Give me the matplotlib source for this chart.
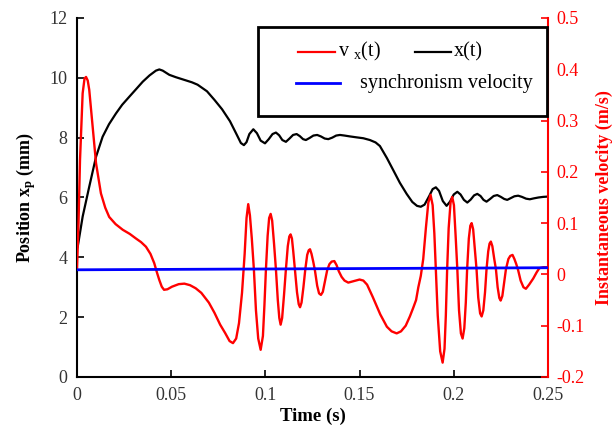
import numpy as np
import matplotlib
matplotlib.use("Agg")
import matplotlib.pyplot as plt
from matplotlib.patches import Rectangle
from matplotlib.ticker import FuncFormatter

plt.rcParams["font.family"] = ["Liberation Serif", "DejaVu Serif"]
plt.rcParams["mathtext.fontset"] = "custom"
plt.rcParams["mathtext.rm"] = "Liberation Serif"
plt.rcParams["mathtext.it"] = "Liberation Serif:italic"
plt.rcParams["mathtext.bf"] = "Liberation Serif:bold"
plt.rcParams["axes.unicode_minus"] = False

# Position of the part x(t) in mm
t_pos = [0.0000, 0.0004, 0.0030, 0.0065, 0.0101, 0.0136, 0.0170, 0.0207, 0.0240, 0.0278,
         0.0315, 0.0349, 0.0385, 0.0419, 0.0437, 0.0455, 0.0490, 0.0525, 0.0570, 0.0610,
         0.0640, 0.0690, 0.0730, 0.0770, 0.0812, 0.0848, 0.0870, 0.0886, 0.0900, 0.0915,
         0.0936, 0.0955, 0.0975, 0.0998, 0.1018, 0.1038, 0.1056, 0.1073, 0.1090, 0.1109,
         0.1128, 0.1147, 0.1166, 0.1183, 0.1200, 0.1215, 0.1235, 0.1255, 0.1275, 0.1295,
         0.1315, 0.1334, 0.1355, 0.1376, 0.1396, 0.1420, 0.1450, 0.1484, 0.1520, 0.1555,
         0.1585, 0.1608, 0.1645, 0.1680, 0.1714, 0.1750, 0.1780, 0.1805, 0.1825, 0.1845,
         0.1870, 0.1888, 0.1905, 0.1922, 0.1942, 0.1962, 0.1980, 0.2000, 0.2019, 0.2036,
         0.2054, 0.2072, 0.2090, 0.2108, 0.2125, 0.2142, 0.2158, 0.2174, 0.2193, 0.2212,
         0.2231, 0.2250, 0.2268, 0.2284, 0.2303, 0.2322, 0.2342, 0.2362, 0.2384, 0.2404,
         0.2425, 0.2450, 0.2475, 0.2500]
x_pos = [4.30, 4.36, 5.36, 6.36, 7.36, 8.03, 8.45, 8.81, 9.10, 9.37,
         9.63, 9.87, 10.08, 10.24, 10.28, 10.24, 10.10, 10.02, 9.93, 9.85,
         9.77, 9.55, 9.26, 8.95, 8.55, 8.10, 7.82, 7.75, 7.85, 8.12,
         8.28, 8.15, 7.90, 7.81, 7.95, 8.12, 8.17, 8.08, 7.92, 7.86,
         7.97, 8.09, 8.12, 8.05, 7.95, 7.92, 7.99, 8.07, 8.09, 8.04,
         7.97, 7.95, 8.00, 8.07, 8.09, 8.07, 8.04, 8.01, 7.98, 7.92,
         7.84, 7.72, 7.32, 6.90, 6.49, 6.12, 5.85, 5.72, 5.69, 5.76,
         6.05, 6.28, 6.34, 6.22, 5.88, 5.72, 5.86, 6.10, 6.19, 6.10,
         5.92, 5.83, 5.93, 6.07, 6.12, 6.05, 5.92, 5.86, 5.95, 6.05,
         6.08, 6.02, 5.95, 5.92, 5.98, 6.04, 6.06, 6.02, 5.96, 5.94,
         5.97, 6.00, 6.02, 6.03]

# Instantaneous velocity vx(t) in m/s
t_vel = [0.0000, 0.0008, 0.0016, 0.0030, 0.0040, 0.0048, 0.0057, 0.0065, 0.0083, 0.0101,
         0.0127, 0.0150, 0.0171, 0.0205, 0.0243, 0.0280, 0.0313, 0.0340, 0.0366, 0.0390,
         0.0410, 0.0425, 0.0437, 0.0450, 0.0462, 0.0480, 0.0504, 0.0540, 0.0570, 0.0600,
         0.0630, 0.0660, 0.0700, 0.0730, 0.0760, 0.0786, 0.0810, 0.0828, 0.0845, 0.0860,
         0.0876, 0.0890, 0.0900, 0.0909, 0.0918, 0.0928, 0.0939, 0.0950, 0.0962, 0.0975,
         0.0987, 0.0995, 0.1003, 0.1012, 0.1020, 0.1028, 0.1036, 0.1046, 0.1056, 0.1066,
         0.1074, 0.1081, 0.1089, 0.1099, 0.1109, 0.1119, 0.1127, 0.1134, 0.1141, 0.1148,
         0.1157, 0.1168, 0.1177, 0.1184, 0.1192, 0.1202, 0.1212, 0.1222, 0.1230, 0.1237,
         0.1245, 0.1254, 0.1263, 0.1275, 0.1285, 0.1295, 0.1305, 0.1317, 0.1328, 0.1340,
         0.1352, 0.1366, 0.1378, 0.1390, 0.1405, 0.1420, 0.1440, 0.1470, 0.1500, 0.1520,
         0.1540, 0.1570, 0.1610, 0.1645, 0.1670, 0.1697, 0.1720, 0.1745, 0.1767, 0.1785,
         0.1800, 0.1812, 0.1825, 0.1838, 0.1852, 0.1865, 0.1877, 0.1888, 0.1897, 0.1905,
         0.1915, 0.1928, 0.1941, 0.1951, 0.1958, 0.1965, 0.1973, 0.1983, 0.1992, 0.2001,
         0.2010, 0.2019, 0.2028, 0.2038, 0.2047, 0.2056, 0.2064, 0.2071, 0.2080, 0.2088,
         0.2095, 0.2103, 0.2112, 0.2121, 0.2130, 0.2140, 0.2148, 0.2157, 0.2166, 0.2174,
         0.2183, 0.2190, 0.2197, 0.2205, 0.2215, 0.2224, 0.2233, 0.2242, 0.2249, 0.2258,
         0.2268, 0.2277, 0.2290, 0.2300, 0.2312, 0.2322, 0.2332, 0.2342, 0.2355, 0.2370,
         0.2383, 0.2400, 0.2422, 0.2440, 0.2454, 0.2475, 0.2500]
v_x = [0.010, 0.100, 0.223, 0.353, 0.382, 0.385, 0.378, 0.360, 0.288, 0.217,
       0.158, 0.130, 0.112, 0.098, 0.087, 0.079, 0.070, 0.063, 0.054, 0.040,
       0.022, 0.003, -0.011, -0.024, -0.030, -0.029, -0.024, -0.019, -0.018, -0.021,
       -0.027, -0.036, -0.055, -0.075, -0.098, -0.114, -0.130, -0.134, -0.125, -0.095,
       -0.036, 0.040, 0.110, 0.137, 0.115, 0.070, 0.010, -0.070, -0.125, -0.147,
       -0.120, -0.060, 0.010, 0.075, 0.110, 0.118, 0.105, 0.060, 0.010, -0.050,
       -0.085, -0.098, -0.085, -0.040, 0.010, 0.055, 0.074, 0.078, 0.070, 0.045,
       0.010, -0.035, -0.058, -0.064, -0.055, -0.025, 0.010, 0.038, 0.047, 0.049,
       0.040, 0.025, 0.008, -0.022, -0.037, -0.040, -0.034, -0.012, 0.008, 0.020,
       0.025, 0.026, 0.018, 0.006, -0.005, -0.012, -0.016, -0.013, -0.010, -0.012,
       -0.020, -0.044, -0.078, -0.102, -0.111, -0.115, -0.111, -0.100, -0.082, -0.065,
       -0.050, -0.025, -0.003, 0.030, 0.090, 0.140, 0.155, 0.135, 0.080, 0.010,
       -0.080, -0.150, -0.172, -0.145, -0.080, 0.010, 0.090, 0.140, 0.151, 0.135,
       0.075, 0.010, -0.070, -0.115, -0.125, -0.105, -0.055, 0.010, 0.070, 0.095,
       0.100, 0.088, 0.050, 0.010, -0.045, -0.076, -0.082, -0.070, -0.035, 0.010,
       0.045, 0.060, 0.064, 0.055, 0.030, 0.010, -0.025, -0.046, -0.051, -0.042,
       -0.015, 0.010, 0.030, 0.036, 0.038, 0.030, 0.020, 0.008, -0.012, -0.025,
       -0.028, -0.020, -0.008, 0.004, 0.012, 0.014, 0.014]

# Synchronism velocity (nearly constant)
t_sync = [0.0, 0.25]
v_sync = [0.009, 0.013]

fig = plt.figure(figsize=(6.14, 4.30), dpi=100)
ax = fig.add_axes([0.1254, 0.1233, 0.767, 0.8349])
ax2 = ax.twinx()

ax.plot(t_pos, x_pos, color="black", lw=1.6, zorder=2)
ax2.plot(t_vel, v_x, color="red", lw=1.7, zorder=2)
ax2.plot(t_sync, v_sync, color="blue", lw=2.0, zorder=3)

ax.set_xlim(0, 0.25)
ax.set_ylim(0, 12)
ax2.set_ylim(-0.2, 0.5)
ax.set_xticks([0, 0.05, 0.1, 0.15, 0.2, 0.25])
ax.set_yticks(range(0, 13, 2))
ax2.set_yticks([-0.2, -0.1, 0, 0.1, 0.2, 0.3, 0.4, 0.5])
fmt = FuncFormatter(lambda v, p: "%g" % round(v, 3))
ax.xaxis.set_major_formatter(fmt)
ax2.yaxis.set_major_formatter(fmt)

# spines and ticks
for a in (ax, ax2):
    a.spines["top"].set_visible(False)
    for s in a.spines.values():
        s.set_linewidth(1.5)
ax.spines["right"].set_visible(False)
ax2.spines["left"].set_visible(False)
ax2.spines["bottom"].set_visible(False)
ax2.spines["right"].set_color("red")

ax.tick_params(axis="both", direction="in", length=5, width=1.2, labelsize=13,
               labelcolor="#333333", pad=7)
ax2.tick_params(axis="y", direction="in", length=5, width=1.2, labelsize=13,
                colors="red", pad=6)

ax.set_xlabel("Time (s)", fontsize=13.5, fontweight="bold", labelpad=3)
ax.set_ylabel(r"Position x$_{\mathbf{p}}$ (mm)", fontsize=13, fontweight="bold", labelpad=8)
ax2.set_ylabel("Instantaneous velocity (m/s)", fontsize=13, fontweight="bold",
               color="red", labelpad=8)

# legend box drawn by hand (two entries on the first row, one on the second)
tr = ax2.transAxes
ax2.add_patch(Rectangle((0.384, 0.728), 0.613, 0.247, transform=tr, facecolor="white",
                        edgecolor="black", lw=2.0, zorder=5, clip_on=False))
ax2.plot([0.469, 0.548], [0.906, 0.906], color="red", lw=1.6, transform=tr, zorder=6)
ax2.text(0.554, 0.906, r"v $_{\mathregular{x}}$(t)", transform=tr, fontsize=14.5,
         va="center", ha="left", zorder=6)
ax2.plot([0.718, 0.795], [0.906, 0.906], color="black", lw=1.6, transform=tr, zorder=6)
ax2.text(0.800, 0.906, "x(t)", transform=tr, fontsize=14.5, va="center", ha="left", zorder=6)
ax2.plot([0.466, 0.558], [0.818, 0.818], color="blue", lw=2.0, transform=tr, zorder=6)
ax2.text(0.601, 0.818, "synchronism velocity", transform=tr, fontsize=14.5,
         va="center", ha="left", zorder=6)

fig.savefig("out.png", dpi=100)
